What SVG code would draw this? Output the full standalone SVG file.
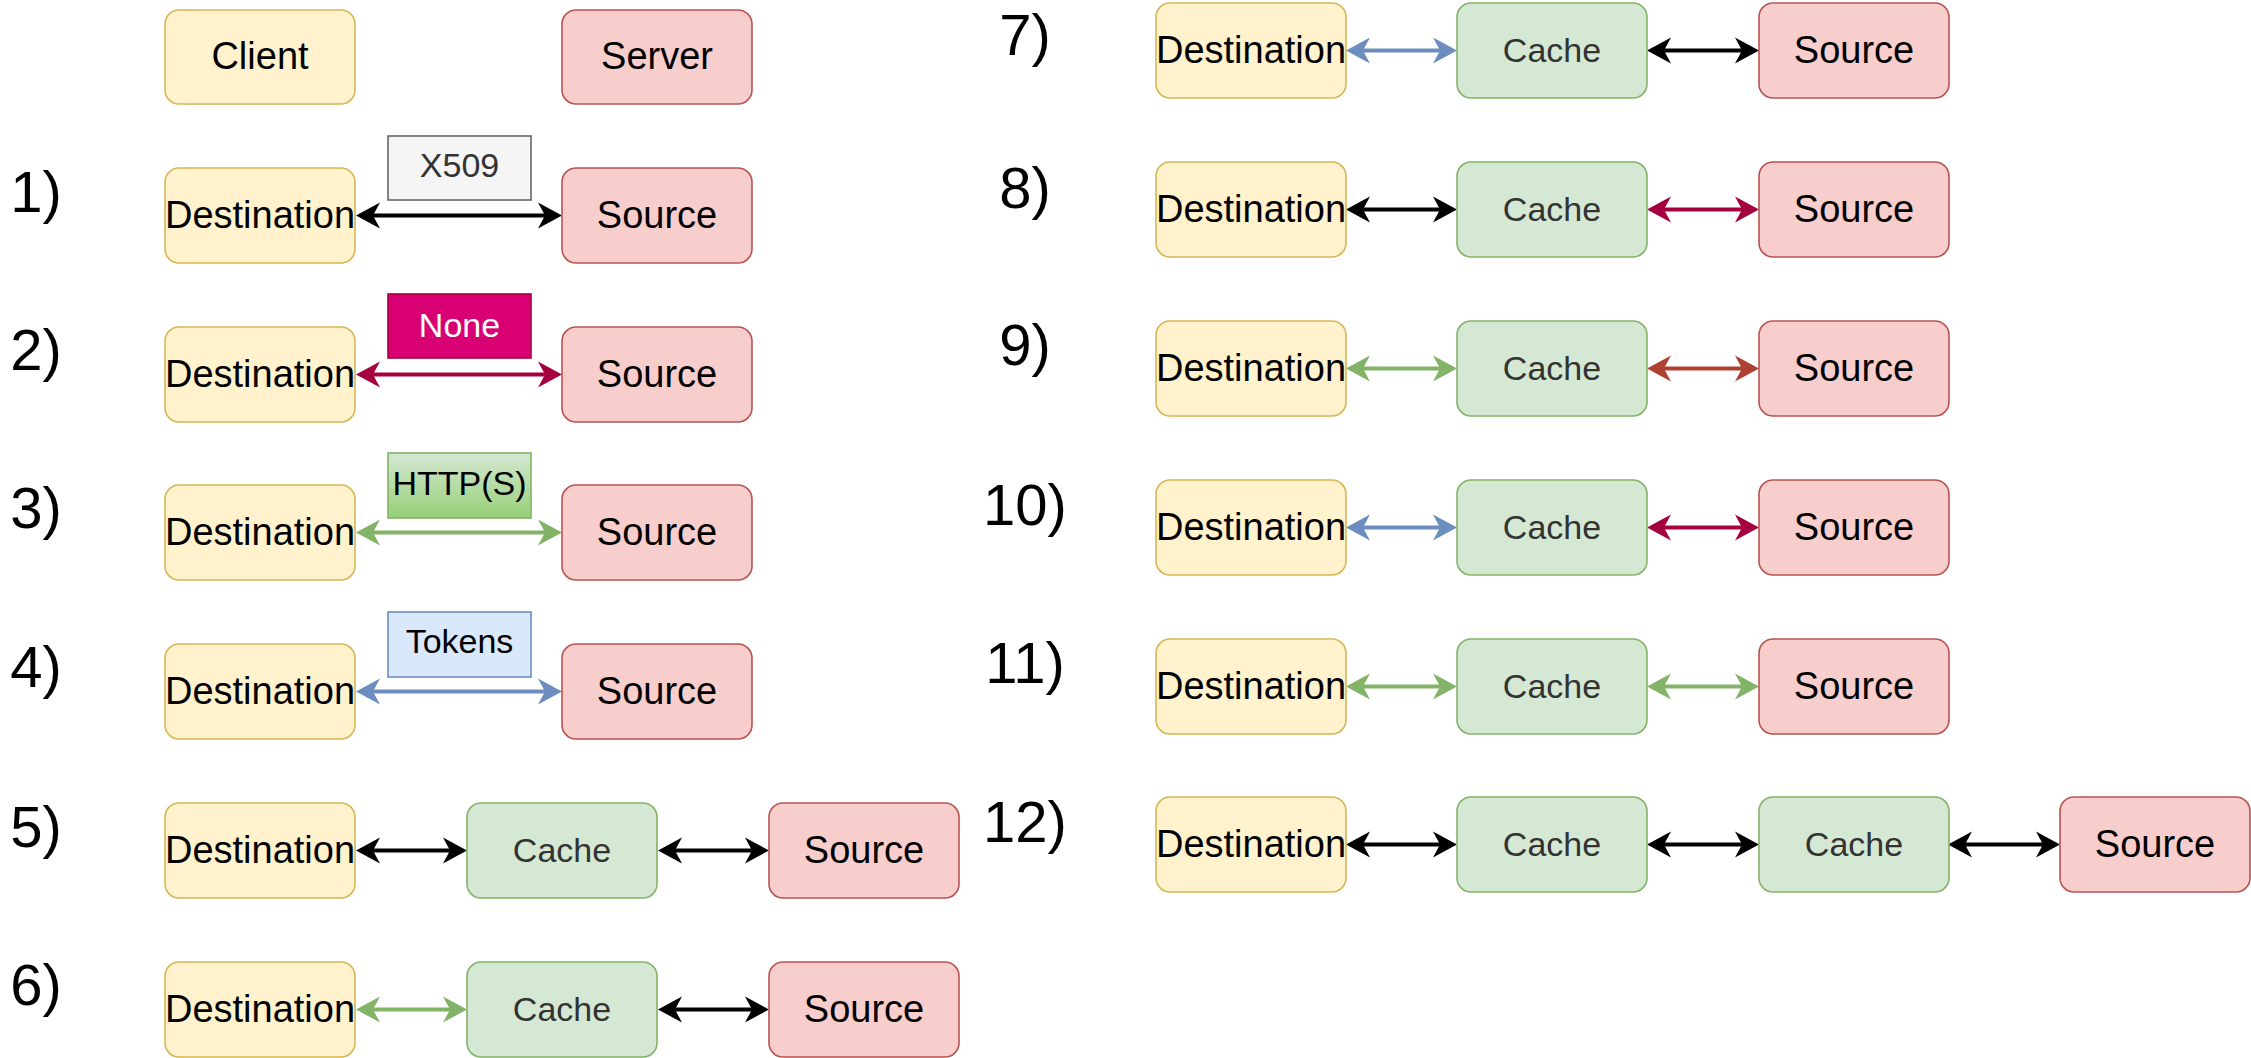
<svg xmlns="http://www.w3.org/2000/svg" width="2251" height="1058" viewBox="0 0 2251 1058">
<style>
text{font-family:"Liberation Sans",Arial,sans-serif}
.cl{fill:#fff2cc;stroke:#d6b656;stroke-width:1.6}
.sv{fill:#f8cecc;stroke:#b85450;stroke-width:1.6}
.ca{fill:#d5e8d4;stroke:#82b366;stroke-width:1.6}
.t{font-size:38px;fill:#000;text-anchor:middle}
.tc{font-size:34px;fill:#333;text-anchor:middle}
.lb{font-size:34px;text-anchor:middle}
.num{font-size:58px;fill:#000;text-anchor:middle}
.a{fill:none;stroke-width:4}
.k{stroke:#000;marker-start:url(#mk);marker-end:url(#mk)}
.r{stroke:#a50040;marker-start:url(#mr);marker-end:url(#mr)}
.g{stroke:#82b366;marker-start:url(#mg);marker-end:url(#mg)}
.b{stroke:#6c8ebf;marker-start:url(#mb);marker-end:url(#mb)}
.o{stroke:#ae4132;marker-start:url(#mo);marker-end:url(#mo)}
</style>
<defs>
<linearGradient id="gg" x1="0" y1="0" x2="0" y2="1"><stop offset="0" stop-color="#d5e8d4"/><stop offset="1" stop-color="#97d077"/></linearGradient>
<marker id="mk" markerUnits="userSpaceOnUse" markerWidth="25" markerHeight="28" viewBox="0 0 25 28" refX="7" refY="14" orient="auto-start-reverse"><path d="M0,1 L24,14 L0,27 L7,14 Z" fill="#000"/></marker>
<marker id="mr" markerUnits="userSpaceOnUse" markerWidth="25" markerHeight="28" viewBox="0 0 25 28" refX="7" refY="14" orient="auto-start-reverse"><path d="M0,1 L24,14 L0,27 L7,14 Z" fill="#a50040"/></marker>
<marker id="mg" markerUnits="userSpaceOnUse" markerWidth="25" markerHeight="28" viewBox="0 0 25 28" refX="7" refY="14" orient="auto-start-reverse"><path d="M0,1 L24,14 L0,27 L7,14 Z" fill="#82b366"/></marker>
<marker id="mb" markerUnits="userSpaceOnUse" markerWidth="25" markerHeight="28" viewBox="0 0 25 28" refX="7" refY="14" orient="auto-start-reverse"><path d="M0,1 L24,14 L0,27 L7,14 Z" fill="#6c8ebf"/></marker>
<marker id="mo" markerUnits="userSpaceOnUse" markerWidth="25" markerHeight="28" viewBox="0 0 25 28" refX="7" refY="14" orient="auto-start-reverse"><path d="M0,1 L24,14 L0,27 L7,14 Z" fill="#ae4132"/></marker>
</defs>
<rect width="2251" height="1058" fill="#fff"/>

<g id="row-labels">
<text class="num" x="36" y="212">1)</text>
<text class="num" x="36" y="370">2)</text>
<text class="num" x="36" y="528">3)</text>
<text class="num" x="36" y="687">4)</text>
<text class="num" x="36" y="847">5)</text>
<text class="num" x="36" y="1005">6)</text>
<text class="num" x="1025" y="55">7)</text>
<text class="num" x="1025" y="208">8)</text>
<text class="num" x="1025" y="365">9)</text>
<text class="num" x="1025" y="525">10)</text>
<text class="num" x="1025" y="683">11)</text>
<text class="num" x="1025" y="842">12)</text>
</g>

<g id="connectors">
<path class="a k" d="M373,215.5 H545"/>
<path class="a r" d="M373,374.5 H545"/>
<path class="a g" d="M373,532.5 H545"/>
<path class="a b" d="M373,691.5 H545"/>
<path class="a k" d="M373,850.5 H450"/>
<path class="a k" d="M675,850.5 H752"/>
<path class="a g" d="M373,1009.5 H450"/>
<path class="a k" d="M675,1009.5 H752"/>
<path class="a b" d="M1363,50.5 H1440"/>
<path class="a k" d="M1664,50.5 H1742"/>
<path class="a k" d="M1363,209.5 H1440"/>
<path class="a r" d="M1664,209.5 H1742"/>
<path class="a g" d="M1363,368.5 H1440"/>
<path class="a o" d="M1664,368.5 H1742"/>
<path class="a b" d="M1363,527.5 H1440"/>
<path class="a r" d="M1664,527.5 H1742"/>
<path class="a g" d="M1363,686.5 H1440"/>
<path class="a g" d="M1664,686.5 H1742"/>
<path class="a k" d="M1363,844.5 H1440"/>
<path class="a k" d="M1664,844.5 H1742"/>
<path class="a k" d="M1965,844.5 H2043"/>
</g>

<g id="client"><rect class="cl" x="165" y="10" width="190" height="94" rx="14"/><text class="t" x="260" y="69">Client</text></g>
<g id="server"><rect class="sv" x="562" y="10" width="190" height="94" rx="14"/><text class="t" x="657" y="69">Server</text></g>

<g id="lbl-x509"><rect x="388" y="136" width="143" height="64" fill="#f5f5f5" stroke="#666" stroke-width="1.6"/><text class="lb" x="459.5" y="177" fill="#333">X509</text></g>
<g id="lbl-none"><rect x="388" y="294" width="143" height="64" fill="#d80073" stroke="#a50040" stroke-width="1.6"/><text class="lb" x="459.5" y="337" fill="#fff">None</text></g>
<g id="lbl-http"><rect x="388" y="453" width="143" height="65" fill="url(#gg)" stroke="#82b366" stroke-width="1.6"/><text class="lb" x="459.5" y="495" fill="#000">HTTP(S)</text></g>
<g id="lbl-tokens"><rect x="388" y="612" width="143" height="65" fill="#dae8fc" stroke="#6c8ebf" stroke-width="1.6"/><text class="lb" x="459.5" y="653" fill="#000">Tokens</text></g>

<g id="r1-dest"><rect class="cl" x="165" y="168" width="190" height="95" rx="14"/><text class="t" x="260" y="228">Destination</text></g>
<g id="r1-src"><rect class="sv" x="562" y="168" width="190" height="95" rx="14"/><text class="t" x="657" y="228">Source</text></g>
<g id="r2-dest"><rect class="cl" x="165" y="327" width="190" height="95" rx="14"/><text class="t" x="260" y="387">Destination</text></g>
<g id="r2-src"><rect class="sv" x="562" y="327" width="190" height="95" rx="14"/><text class="t" x="657" y="387">Source</text></g>
<g id="r3-dest"><rect class="cl" x="165" y="485" width="190" height="95" rx="14"/><text class="t" x="260" y="545">Destination</text></g>
<g id="r3-src"><rect class="sv" x="562" y="485" width="190" height="95" rx="14"/><text class="t" x="657" y="545">Source</text></g>
<g id="r4-dest"><rect class="cl" x="165" y="644" width="190" height="95" rx="14"/><text class="t" x="260" y="704">Destination</text></g>
<g id="r4-src"><rect class="sv" x="562" y="644" width="190" height="95" rx="14"/><text class="t" x="657" y="704">Source</text></g>
<g id="r5-dest"><rect class="cl" x="165" y="803" width="190" height="95" rx="14"/><text class="t" x="260" y="863">Destination</text></g>
<g id="r5-cache"><rect class="ca" x="467" y="803" width="190" height="95" rx="14"/><text class="tc" x="562" y="862">Cache</text></g>
<g id="r5-src"><rect class="sv" x="769" y="803" width="190" height="95" rx="14"/><text class="t" x="864" y="863">Source</text></g>
<g id="r6-dest"><rect class="cl" x="165" y="962" width="190" height="95" rx="14"/><text class="t" x="260" y="1022">Destination</text></g>
<g id="r6-cache"><rect class="ca" x="467" y="962" width="190" height="95" rx="14"/><text class="tc" x="562" y="1021">Cache</text></g>
<g id="r6-src"><rect class="sv" x="769" y="962" width="190" height="95" rx="14"/><text class="t" x="864" y="1022">Source</text></g>

<g id="r7-dest"><rect class="cl" x="1156" y="3" width="190" height="95" rx="14"/><text class="t" x="1251" y="63">Destination</text></g>
<g id="r7-cache"><rect class="ca" x="1457" y="3" width="190" height="95" rx="14"/><text class="tc" x="1552" y="62">Cache</text></g>
<g id="r7-src"><rect class="sv" x="1759" y="3" width="190" height="95" rx="14"/><text class="t" x="1854" y="63">Source</text></g>
<g id="r8-dest"><rect class="cl" x="1156" y="162" width="190" height="95" rx="14"/><text class="t" x="1251" y="222">Destination</text></g>
<g id="r8-cache"><rect class="ca" x="1457" y="162" width="190" height="95" rx="14"/><text class="tc" x="1552" y="221">Cache</text></g>
<g id="r8-src"><rect class="sv" x="1759" y="162" width="190" height="95" rx="14"/><text class="t" x="1854" y="222">Source</text></g>
<g id="r9-dest"><rect class="cl" x="1156" y="321" width="190" height="95" rx="14"/><text class="t" x="1251" y="381">Destination</text></g>
<g id="r9-cache"><rect class="ca" x="1457" y="321" width="190" height="95" rx="14"/><text class="tc" x="1552" y="380">Cache</text></g>
<g id="r9-src"><rect class="sv" x="1759" y="321" width="190" height="95" rx="14"/><text class="t" x="1854" y="381">Source</text></g>
<g id="r10-dest"><rect class="cl" x="1156" y="480" width="190" height="95" rx="14"/><text class="t" x="1251" y="540">Destination</text></g>
<g id="r10-cache"><rect class="ca" x="1457" y="480" width="190" height="95" rx="14"/><text class="tc" x="1552" y="539">Cache</text></g>
<g id="r10-src"><rect class="sv" x="1759" y="480" width="190" height="95" rx="14"/><text class="t" x="1854" y="540">Source</text></g>
<g id="r11-dest"><rect class="cl" x="1156" y="639" width="190" height="95" rx="14"/><text class="t" x="1251" y="699">Destination</text></g>
<g id="r11-cache"><rect class="ca" x="1457" y="639" width="190" height="95" rx="14"/><text class="tc" x="1552" y="698">Cache</text></g>
<g id="r11-src"><rect class="sv" x="1759" y="639" width="190" height="95" rx="14"/><text class="t" x="1854" y="699">Source</text></g>
<g id="r12-dest"><rect class="cl" x="1156" y="797" width="190" height="95" rx="14"/><text class="t" x="1251" y="857">Destination</text></g>
<g id="r12-cache1"><rect class="ca" x="1457" y="797" width="190" height="95" rx="14"/><text class="tc" x="1552" y="856">Cache</text></g>
<g id="r12-cache2"><rect class="ca" x="1759" y="797" width="190" height="95" rx="14"/><text class="tc" x="1854" y="856">Cache</text></g>
<g id="r12-src"><rect class="sv" x="2060" y="797" width="190" height="95" rx="14"/><text class="t" x="2155" y="857">Source</text></g>
</svg>
